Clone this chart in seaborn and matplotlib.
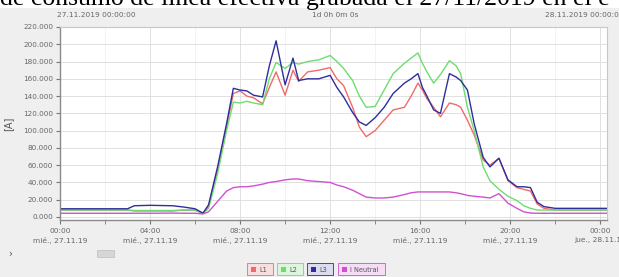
import matplotlib
matplotlib.use('Agg')
import pandas as pd
import seaborn as sns
import matplotlib.pyplot as plt
from matplotlib.patches import Rectangle

# horas del dia (27.11.2019) y corriente por fase [A]
horas = [0, 1, 2, 3, 3.3, 4, 5, 5.5, 6.0, 6.35, 6.6, 7.0, 7.4, 7.7, 8.0, 8.3, 8.6, 9.0,
         9.3, 9.6, 10.0, 10.35, 10.6, 11.0, 11.5, 12.0, 12.3, 12.6, 13.0, 13.3, 13.6,
         14.0, 14.4, 14.8, 15.3, 15.6, 15.9, 16.1, 16.3, 16.6, 16.9, 17.3, 17.6, 17.8,
         18.1, 18.4, 18.8, 19.1, 19.5, 19.9, 20.3, 20.6, 20.9, 21.2, 21.5, 22, 24.3]
l1 = [8, 8, 8, 8, 7, 7, 7, 8, 8, 4, 12, 55, 105, 143, 146, 140, 138, 131,
      150, 168, 141, 170, 157, 168, 170, 173, 160, 152, 127, 104, 93,
      100, 112, 124, 127, 140, 155, 147, 137, 127, 116, 132, 130, 127,
      112, 95, 66, 60, 68, 42, 34, 32, 30, 15, 10, 8, 8]
l2 = [8, 8, 8, 8, 7.5, 7.5, 7.5, 8, 8, 4, 10, 50, 100, 133, 132, 134, 132, 130,
      160, 179, 172, 179, 177, 180, 182, 187, 180, 172, 158, 140, 127,
      128, 147, 166, 178, 184, 190, 178, 168, 155, 165, 181, 175, 166,
      127, 100, 58, 42, 32, 24, 19, 13, 10, 8, 8, 8, 8]
l3 = [9.5, 9.5, 9.5, 9.5, 13, 13.5, 13, 11.5, 9.5, 4.5, 14, 58, 108, 149, 147, 146, 141, 139,
      175, 204, 153, 184, 158, 160, 160, 164, 150, 139, 121, 110, 106,
      115, 127, 143, 155, 160, 166, 150, 140, 124, 120, 166, 162, 158,
      147, 108, 69, 58, 68, 43, 35, 35, 34, 17, 12, 10, 10]
neutral = [4.3, 4.3, 4.3, 4.3, 4.3, 4.3, 4.5, 4.3, 4.3, 3.5, 6, 18, 30, 34, 35, 35, 36, 38,
           40, 41, 43, 44, 44, 42, 41, 40, 37, 35, 31, 27, 23,
           22, 22, 23, 26, 28, 29, 29, 29, 29, 29, 29, 28, 27,
           25, 24, 23, 22, 27, 16, 10, 6, 4.5, 4.3, 4.3, 4.3, 4.3]

series = ['L1', 'L2', 'L3', 'I Neutral']
colores = {'L1': '#f06a6a', 'L2': '#6fdc6f', 'L3': '#2e2e9e', 'I Neutral': '#d24fd2'}
fondos = {'L1': '#f8dede', 'L2': '#ddf5dd', 'L3': '#dcdcf0', 'I Neutral': '#f5ddf5'}

ticks_x = [0, 4, 8, 12, 16, 20, 24]
etiquetas_x = ['00:00\nmié., 27.11.19', '04:00\nmié., 27.11.19', '08:00\nmié., 27.11.19',
               '12:00\nmié., 27.11.19', '16:00\nmié., 27.11.19', '20:00\nmié., 27.11.19',
               '00:00\njue., 28.11.19']
ticks_y = [0, 20, 40, 60, 80, 100, 120, 140, 160, 180, 200, 220]

df = pd.DataFrame({
    'hora': horas * 4,
    'valor': l1 + l2 + l3 + neutral,
    'fase': sum([[s] * len(horas) for s in series], []),
})

W, H = 619, 277
fig = plt.figure(figsize=(W / 100, H / 100), dpi=100, facecolor='#efefef')
fig.patches.append(Rectangle((0, 1 - 8 / H), 1, 8 / H, transform=fig.transFigure,
                             facecolor='white', edgecolor='none', zorder=0))
fig.text(0.0, 1 - 5 / H, 'de consumo de línea efectiva grabada el 27/11/2019 en el e',
         family='Liberation Serif', fontsize=18.5, va='baseline', ha='left', color='black')

ax = fig.add_axes([60 / W, 1 - 220 / H, 547 / W, 193 / H])
ax.set_facecolor('white')
sns.lineplot(data=df, x='hora', y='valor', hue='fase', palette=colores, hue_order=series,
             linewidth=1, legend=False, estimator=None, sort=False, ax=ax)

ax.set_xlim(0, 24.3)
ax.set_ylim(-3.5, 220)
ax.set_xticks(ticks_x)
ax.set_xticklabels(etiquetas_x, linespacing=1.5)
ax.set_xticks([2, 6, 10, 14, 18, 22], minor=True)
ax.set_yticks(ticks_y)
ax.set_yticklabels(['%.3f' % v for v in ticks_y])
ax.tick_params(axis='y', which='major', labelsize=5.2, colors='#777777', length=3,
               labelcolor='#666666', pad=2)
ax.tick_params(axis='x', which='major', labelsize=5.4, colors='#777777', length=3,
               labelcolor='#666666', pad=3)
ax.tick_params(axis='x', which='minor', length=3, colors='#777777')
ax.grid(True, which='major', color='#dcdcdc', linewidth=0.6)
ax.grid(True, which='minor', axis='x', color='#efefef', linewidth=0.5)
ax.set_axisbelow(True)
ax.set_xlabel('')
ax.set_ylabel('[A]', fontsize=7, color='#555555', labelpad=7)
for s in ['top', 'right']:
    ax.spines[s].set_color('#c8c8c8')
    ax.spines[s].set_linewidth(0.8)
for s in ['left', 'bottom']:
    ax.spines[s].set_color('#8a8a8a')
    ax.spines[s].set_linewidth(1.0)

# cabecera
fig.text(57 / W, 1 - 15 / H, '27.11.2019 00:00:00', fontsize=5.3, color='#666666', va='center')
fig.text(312 / W, 1 - 15 / H, '1d 0h 0m 0s', fontsize=5.3, color='#666666', va='center')
fig.text(545 / W, 1 - 15 / H, '28.11.2019 00:00:00', fontsize=5.3, color='#666666', va='center')

# barra de desplazamiento
fig.text(8 / W, 1 - 254 / H, '›', fontsize=7, color='#555555', va='center')
fig.patches.append(Rectangle((97 / W, 1 - 257 / H), 17 / W, 7 / H, transform=fig.transFigure,
                             facecolor='#d6d6d6', edgecolor='#bdbdbd', linewidth=0.5))

# leyenda
cajas = [(247, 26), (277, 26), (307, 26), (338, 47)]
for s, (x0, w) in zip(series, cajas):
    fig.patches.append(Rectangle((x0 / W, 1 - 275 / H), w / W, 12 / H, transform=fig.transFigure,
                                 facecolor=fondos[s], edgecolor=colores[s], linewidth=0.6))
    fig.patches.append(Rectangle(((x0 + 4) / W, 1 - 272 / H), 5 / W, 5 / H,
                                 transform=fig.transFigure, facecolor=colores[s],
                                 edgecolor='none'))
    fig.text((x0 + 12) / W, 1 - 269.5 / H, s, fontsize=4.8, color='#555555', va='center')

fig.savefig('out.png', dpi=100, facecolor=fig.get_facecolor())
